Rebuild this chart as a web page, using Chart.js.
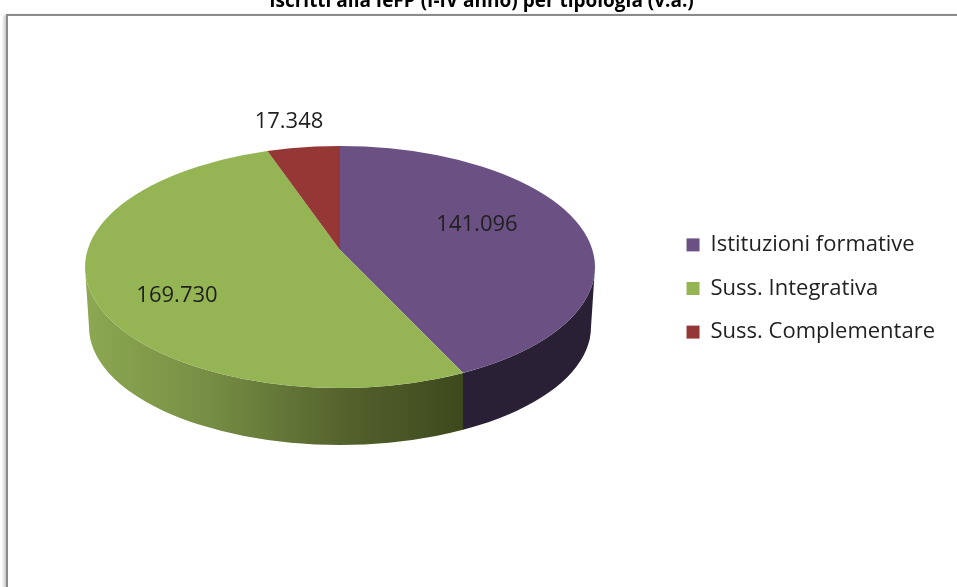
<!DOCTYPE html>
<html>
<head>
<meta charset="utf-8">
<title>Iscritti alla IeFP</title>
<script src="https://cdn.jsdelivr.net/npm/chart.js@4/dist/chart.umd.min.js"></script>
<style>
    html, body { margin: 0; padding: 0; background: #fff; overflow: hidden; width: 957px; height: 587px; }
    #frame { position: absolute; left: 6px; top: 14px; width: 980px; height: 620px; border: 2px solid #8b8b8b; box-shadow: -2px 1px 3px #c4c4c4; }
    #myChart { position: absolute; left: 0; top: -10px; }
</style>
</head>
<body>
<div id="frame"></div>
<canvas id="myChart" width="957" height="597"></canvas>
<script>
const categories = ['Istituzioni formative', 'Suss. Integrativa', 'Suss. Complementare'];
const iscritti = [141096, 169730, 17348];
const colors = ['#6a5083', '#95b554', '#953735'];
const chartTitle = 'Iscritti alla IeFP (I-IV anno) per tipologia (v.a.)';

// the canvas sits 10px above the page, the reference cuts the title off
const yShift = 10;
const top3d = { x: 340, y: 267 + yShift, rx: 255, ry: 121 };
const bottom3d = { x: 340, y: 327 + yShift, rx: 251, ry: 118 };
const apex = { x: 340, y: 250 + yShift };
const tilt = 120 / 255;
const oversize = 1.3;
const labelPos = [[477, 225], [177, 296], [289, 122]];

function ellipsePath(ctx, e) {
    ctx.beginPath();
    ctx.ellipse(e.x, e.y, e.rx, e.ry, 0, 0, Math.PI * 2);
}

// where a slice edge coming out of the apex meets the top ellipse
function rimX(angle) {
    const dx = Math.cos(angle) * top3d.rx;
    const dy = Math.sin(angle) * top3d.rx * tilt;
    const off = apex.y - top3d.y;
    const a = (dx * dx) / (top3d.rx * top3d.rx) + (dy * dy) / (top3d.ry * top3d.ry);
    const b = (2 * dy * off) / (top3d.ry * top3d.ry);
    const c = (off * off) / (top3d.ry * top3d.ry) - 1;
    const t = (-b + Math.sqrt(b * b - 4 * a * c)) / (2 * a);
    return apex.x + t * dx;
}

function wallFill(ctx, index) {
    if (index === 0) return '#2a2035';
    const g = ctx.createLinearGradient(top3d.x - top3d.rx, 0, rimX(Math.PI / 3), 0);
    g.addColorStop(0, '#8ca851');
    g.addColorStop(0.3, '#778f45');
    g.addColorStop(0.68, '#515f2b');
    g.addColorStop(1, '#3a451a');
    return g;
}

function drawWalls(ctx, meta) {
    const left = top3d.x - top3d.rx;
    const right = top3d.x + top3d.rx;
    meta.data.forEach((arc, i) => {
        const { startAngle, endAngle } = arc.getProps(['startAngle', 'endAngle'], true);
        if (endAngle <= 0 || startAngle >= Math.PI) return;
        const xRight = startAngle > 0 ? rimX(startAngle) : right;
        const xLeft = endAngle < Math.PI ? rimX(endAngle) : left;
        ctx.save();
        ctx.beginPath();
        ctx.rect(xLeft, 0, xRight - xLeft, 700);
        ctx.clip();
        ctx.beginPath();
        ctx.ellipse(top3d.x, top3d.y, top3d.rx, top3d.ry, 0, 0, Math.PI);
        ctx.ellipse(bottom3d.x, bottom3d.y, bottom3d.rx, bottom3d.ry, 0, Math.PI, 0, true);
        ctx.closePath();
        ctx.fillStyle = wallFill(ctx, i);
        ctx.fill();
        ctx.restore();
    });
}

const pie3d = {
    id: 'pie3d',
    beforeDatasetDraw(chart, args) {
        const ctx = chart.ctx;
        const meta = args.meta;
        const arc = meta.data[0];
        drawWalls(ctx, meta);
        // top face: chart.js arcs, flattened and cut to the ellipse
        ctx.save();
        ellipsePath(ctx, top3d);
        ctx.clip();
        ctx.translate(apex.x, apex.y);
        ctx.scale(oversize, oversize * tilt);
        ctx.translate(-arc.x, -arc.y);
        meta.controller.draw();
        ctx.restore();
        return false;
    },
    afterDatasetsDraw(chart) {
        const ctx = chart.ctx;
        ctx.save();
        ctx.font = '22px "Open Sans"';
        ctx.fillStyle = '#1f1f1f';
        ctx.textAlign = 'center';
        ctx.textBaseline = 'middle';
        iscritti.forEach((v, i) => {
            const txt = String(v).replace(/\B(?=(\d{3})+$)/g, '.');
            ctx.fillText(txt, labelPos[i][0], labelPos[i][1] + yShift);
        });
        ctx.restore();
    }
};

new Chart(document.getElementById('myChart').getContext('2d'), {
    type: 'pie',
    data: {
        labels: categories,
        datasets: [{
            data: iscritti,
            backgroundColor: colors,
            borderWidth: 0,
            radius: 255,
            clip: false
        }]
    },
    options: {
        responsive: false,
        animation: false,
        layout: { padding: { left: 18, right: 12 } },
        plugins: {
            title: {
                display: true,
                text: chartTitle,
                color: '#000',
                font: { family: '"Open Sans"', size: 19, weight: 'bold' },
                padding: 0
            },
            legend: {
                position: 'right',
                labels: {
                    color: '#222',
                    boxWidth: 13,
                    boxHeight: 13,
                    padding: 21.6,
                    font: { family: '"Open Sans"', size: 22 }
                }
            },
            tooltip: { enabled: false }
        }
    },
    plugins: [pie3d]
});
</script>
</body>
</html>
